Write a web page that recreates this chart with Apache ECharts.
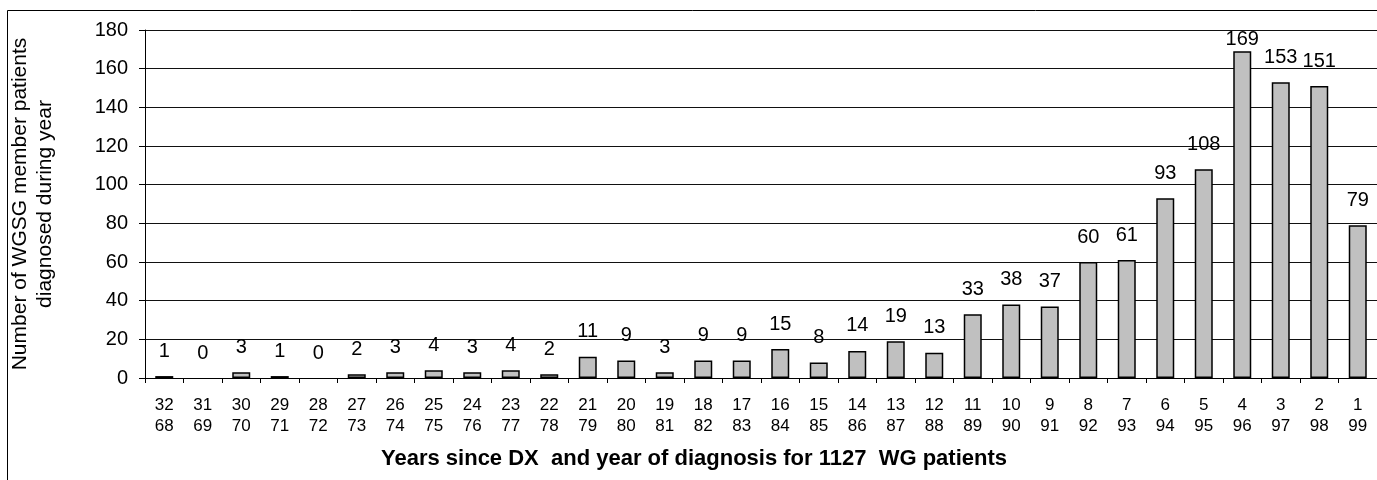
<!DOCTYPE html>
<html>
<head>
<meta charset="utf-8">
<script src="https://cdn.jsdelivr.net/npm/echarts@6/dist/echarts.min.js"></script>
<style>
  html, body { margin: 0; padding: 0; background: #fff; }
  #main { width: 1377px; height: 480px; }
</style>
</head>
<body>
<div id="main"></div>
<script>
// years since diagnosis / year of diagnosis
var yearsSince = ['32','31','30','29','28','27','26','25','24','23','22','21','20','19','18','17','16','15','14','13','12','11','10','9','8','7','6','5','4','3','2','1'];
var diagYear = ['68','69','70','71','72','73','74','75','76','77','78','79','80','81','82','83','84','85','86','87','88','89','90','91','92','93','94','95','96','97','98','99'];
var patients = [1, 0, 3, 1, 0, 2, 3, 4, 3, 4, 2, 11, 9, 3, 9, 9, 15, 8, 14, 19, 13, 33, 38, 37, 60, 61, 93, 108, 169, 153, 151, 79];
var yTicks = [0, 20, 40, 60, 80, 100, 120, 140, 160, 180];

var font = 'Liberation Sans, Arial, sans-serif';
var categories = yearsSince.map(function (s, i) { return s + '\n' + diagYear[i]; });

var myChart = echarts.init(document.getElementById('main'));
var option = {
    animation: false,
    backgroundColor: '#fff',
    grid: {
        left: 127,
        top: 30,
        width: 1256,
        height: 348,
        containLabel: false
    },
    graphic: [{
        type: 'rect',
        shape: { x: 7.5, y: 10.5, width: 1450, height: 520 },
        style: { fill: 'none', stroke: '#000', lineWidth: 1 },
        silent: true
    }, {
        type: 'text',
        style: {
            text: 'Years since DX  and year of diagnosis for 1127  WG patients',
            x: 694,
            y: 459,
            align: 'center',
            verticalAlign: 'middle',
            fontFamily: font,
            fontWeight: 'bold',
            fontSize: 22,
            fill: '#000'
        }
    }],
    xAxis: {
        type: 'category',
        data: categories,
        boundaryGap: true,
        axisLine: { lineStyle: { color: '#000', width: 1 } },
        axisTick: { show: true, length: 5, lineStyle: { color: '#000' } },
        axisLabel: {
            color: '#000',
            fontFamily: font,
            fontSize: 17,
            lineHeight: 21,
            margin: 17,
            interval: 0
        }
    },
    yAxis: {
        type: 'value',
        min: yTicks[0],
        max: yTicks[yTicks.length - 1],
        interval: 20,
        name: 'Number of WGSG member patients\ndiagnosed during year',
        nameLocation: 'middle',
        nameRotate: 90,
        nameGap: 87,
        nameTextStyle: {
            color: '#000',
            fontFamily: font,
            fontSize: 21,
            lineHeight: 25
        },
        axisLine: { show: true, lineStyle: { color: '#000', width: 1 } },
        axisTick: { show: true, inside: false, length: 6, lineStyle: { color: '#000' } },
        axisLabel: {
            color: '#000',
            fontFamily: font,
            fontSize: 20,
            margin: 17
        },
        splitLine: { show: true, lineStyle: { color: '#111', width: 1 } }
    },
    series: [{
        type: 'bar',
        barWidth: 18,
        itemStyle: { color: '#c0c0c0', borderColor: '#000', borderWidth: 1.5 },
        label: {
            show: true,
            position: 'top',
            distance: 15,
            color: '#000',
            fontFamily: font,
            fontSize: 20
        },
        data: patients.map(function (v) {
            if (v === 0) return { value: v, itemStyle: { borderWidth: 0 } };
            // label squeezed against the top of the plot for the tallest bar
            return v > 160 ? { value: v, label: { distance: 2 } } : v;
        })
    }]
};
myChart.setOption(option);
</script>
</body>
</html>
